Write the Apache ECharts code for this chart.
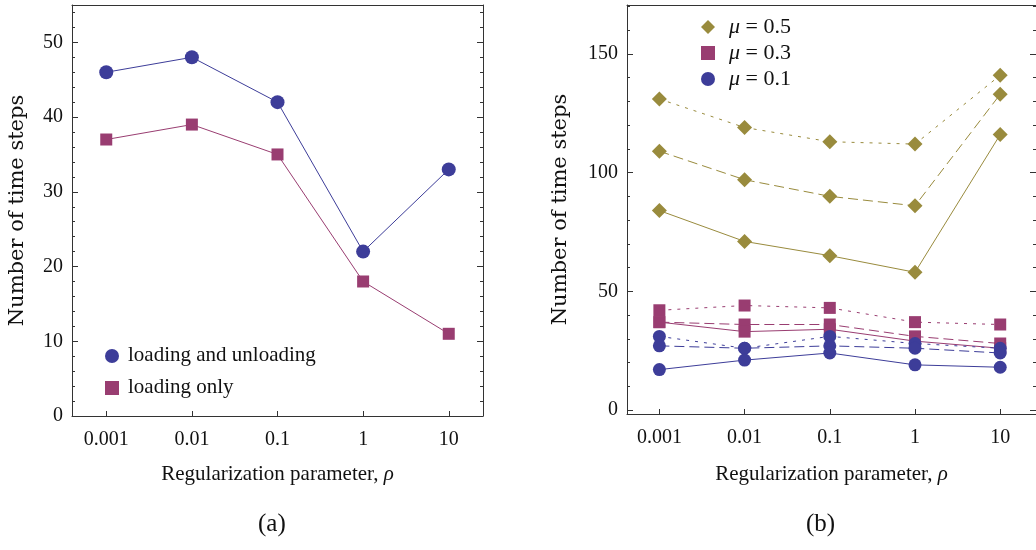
<!DOCTYPE html>
<html><head><meta charset="utf-8">
<script src="https://cdn.jsdelivr.net/npm/echarts@6/dist/echarts.min.js"></script>
<style>html,body{margin:0;padding:0;background:#fff}#c{width:1036px;height:550px}</style>
</head><body><div id="c"></div>
<script>
// ---- data ----
const rhoLabels = ['0.001', '0.01', '0.1', '1', '10'];
// panel (a)
const loadUnload = [46, 48, 42, 22, 33];
const loadOnly = [37, 39, 35, 18, 11];
// panel (b)
const mu05Dotted = [131, 119, 113, 112, 141];
const mu05Dashed = [109, 97, 90, 86, 133];
const mu05Solid = [84, 71, 65, 58, 116];
const mu03Dotted = [42, 44, 43, 37, 36];
const mu03Dashed = [37, 36, 36, 31, 28];
const mu03Solid = [37, 33, 34, 29, 26];
const mu01Dotted = [31, 26, 31, 28, 26];
const mu01Dashed = [27, 26, 27, 26, 24];
const mu01Solid = [17, 21, 24, 19, 18];
const yTicksA = [0, 10, 20, 30, 40, 50];
const yTicksB = [0, 50, 100, 150];
const legendA = ['loading and unloading', 'loading only'];

// ---- styling ----
const BLUE = '#3d3d99', MAG = '#993d71', GOLD = '#998b3d';
const SERIF = 'Liberation Serif';
const AXC = '#333';
const xs = rhoLabels.map(s => Math.round(Math.log10(parseFloat(s)) * 1e9) / 1e9);
const pts = arr => arr.map((v, i) => [xs[i], v]);
const fmtX = v => { const i = xs.findIndex(x => Math.abs(x - v) < 1e-6); return i >= 0 ? rhoLabels[i] : ''; };
function minorList(min, max, step, majors) {
  const out = [];
  for (let v = min; v <= max + 1e-9; v += step) {
    const r = Math.round(v * 1000) / 1000;
    if (!majors.includes(r)) out.push(r);
  }
  return out;
}
const minorA = minorList(2, 54, 2, yTicksA);
const minorB = minorList(10, 170, 10, yTicksB);

function xAxesFor(gi, min, max, nameGap) {
  return [{
    type: 'value', gridIndex: gi, position: 'bottom', min, max,
    axisLine: { show: true, onZero: false, lineStyle: { color: AXC, width: 1 } },
    axisTick: { show: true, inside: true, length: 5, customValues: xs, lineStyle: { color: AXC } },
    axisLabel: { show: true, customValues: xs, formatter: fmtX, margin: 14, color: '#111', fontFamily: SERIF, fontSize: 20 },
    splitLine: { show: false },
    name: 'Regularization parameter, {i|ρ}', nameLocation: 'middle', nameGap,
    nameTextStyle: { color: '#111', fontFamily: SERIF, fontSize: 21, rich: { i: { fontStyle: 'italic', fontFamily: SERIF, fontSize: 21, color: '#111' } } }
  }, {
    type: 'value', gridIndex: gi, position: 'top', min, max,
    axisLine: { show: true, onZero: false, lineStyle: { color: AXC, width: 1 } },
    axisTick: { show: false }, axisLabel: { show: false }, splitLine: { show: false }
  }];
}
function yAxesFor(gi, min, max, majors, minors, nameGap) {
  const base = { type: 'value', gridIndex: gi, min, max, splitLine: { show: false } };
  return [
    Object.assign({}, base, {
      position: 'left',
      axisLine: { show: true, onZero: false, lineStyle: { color: AXC, width: 1 } },
      axisTick: { show: true, inside: true, length: 6, customValues: majors, lineStyle: { color: AXC } },
      axisLabel: { show: true, customValues: majors, margin: 9, color: '#111', fontFamily: SERIF, fontSize: 20 },
      name: 'Number of time steps', nameLocation: 'middle', nameGap,
      nameTextStyle: { color: '#111', fontFamily: 'DejaVu Serif', fontSize: 21 }
    }),
    Object.assign({}, base, {
      position: 'left',
      axisLine: { show: false, onZero: false },
      axisTick: { show: true, inside: true, length: 3, customValues: minors, lineStyle: { color: AXC } },
      axisLabel: { show: false }
    }),
    Object.assign({}, base, {
      position: 'right',
      axisLine: { show: true, onZero: false, lineStyle: { color: AXC, width: 1 } },
      axisTick: { show: true, inside: true, length: 6, customValues: majors, lineStyle: { color: AXC } },
      axisLabel: { show: false }
    }),
    Object.assign({}, base, {
      position: 'right',
      axisLine: { show: false, onZero: false },
      axisTick: { show: true, inside: true, length: 3, customValues: minors, lineStyle: { color: AXC } },
      axisLabel: { show: false }
    })
  ];
}

function line(name, data, color, type, symbol, size, xi, yi) {
  return {
    type: 'line', name, data: pts(data), xAxisIndex: xi, yAxisIndex: yi,
    symbol, symbolSize: size, showSymbol: true,
    lineStyle: { color, width: 1, type },
    itemStyle: { color, opacity: 1 },
    emphasis: { disabled: true }, z: 3
  };
}
const DOT = [3, 6], DASH = [10, 5];
const L05 = 'μ05', L03 = 'μ03', L01 = 'μ01';
const legendNames = { 'μ05': '{i|μ}{t| = 0.5}', 'μ03': '{i|μ}{t| = 0.3}', 'μ01': '{i|μ}{t| = 0.1}' };

const chart = echarts.init(document.getElementById('c'), null, { renderer: 'canvas' });
chart.setOption({
  animation: false,
  backgroundColor: '#fff',
  textStyle: { fontFamily: SERIF },
  grid: [
    { left: 72, top: 5, width: 411, height: 411 },
    { left: 627, top: 5, width: 416, height: 409 }
  ],
  xAxis: [].concat(xAxesFor(0, -3.4, 1.4, 48), xAxesFor(1, -3.38, 1.42, 50)),
  yAxis: [].concat(yAxesFor(0, 0, 55, yTicksA, minorA, 44), yAxesFor(1, -1.7, 170.6, yTicksB, minorB, 56)),
  legend: [{
    orient: 'vertical', left: 100, top: 344, itemWidth: 14, itemHeight: 14, itemGap: 18,
    textStyle: { fontSize: 1, color: 'rgba(0,0,0,0)' },
    formatter: () => '',
    selectedMode: false,
    data: [{ name: legendA[0], icon: 'circle' }, { name: legendA[1], icon: 'rect' }]
  }, {
    orient: 'vertical', left: 696, top: 11, itemWidth: 14, itemHeight: 14, itemGap: 4,
    textStyle: { fontFamily: SERIF, fontSize: 22, color: '#111',
      rich: {
        i: { fontStyle: 'italic', fontFamily: SERIF, fontSize: 22, color: '#111', padding: [0, 0, 0, 9] },
        t: { fontFamily: SERIF, fontSize: 22, color: '#111' }
      } },
    formatter: n => legendNames[n],
    selectedMode: false,
    data: [{ name: L05, icon: 'diamond' }, { name: L03, icon: 'rect' }, { name: L01, icon: 'circle' }]
  }],
  series: [
    line(legendA[1], loadOnly, MAG, 'solid', 'rect', 12, 0, 0),
    line(legendA[0], loadUnload, BLUE, 'solid', 'circle', 14, 0, 0),
    line(L05, mu05Dotted, GOLD, DOT, 'diamond', 15, 2, 4),
    line(L05, mu05Dashed, GOLD, DASH, 'diamond', 15, 2, 4),
    line(L05, mu05Solid, GOLD, 'solid', 'diamond', 15, 2, 4),
    line(L03, mu03Dotted, MAG, DOT, 'rect', 12, 2, 4),
    line(L03, mu03Dashed, MAG, DASH, 'rect', 12, 2, 4),
    line(L03, mu03Solid, MAG, 'solid', 'rect', 12, 2, 4),
    line(L01, mu01Dotted, BLUE, DOT, 'circle', 13, 2, 4),
    line(L01, mu01Dashed, BLUE, DASH, 'circle', 13, 2, 4),
    line(L01, mu01Solid, BLUE, 'solid', 'circle', 13, 2, 4)
  ],
  graphic: [
    { type: 'text', x: 128, y: 355, style: { text: legendA[0], font: '21px "Liberation Serif"', fill: '#111', verticalAlign: 'middle' } },
    { type: 'text', x: 128, y: 387, style: { text: legendA[1], font: '21px "Liberation Serif"', fill: '#111', verticalAlign: 'middle' } },
    { type: 'text', left: 258, top: 512, style: { text: '(a)', font: '25px "Liberation Serif"', fill: '#111' } },
    { type: 'text', left: 806, top: 512, style: { text: '(b)', font: '25px "Liberation Serif"', fill: '#111' } }
  ]
});
</script></body></html>
